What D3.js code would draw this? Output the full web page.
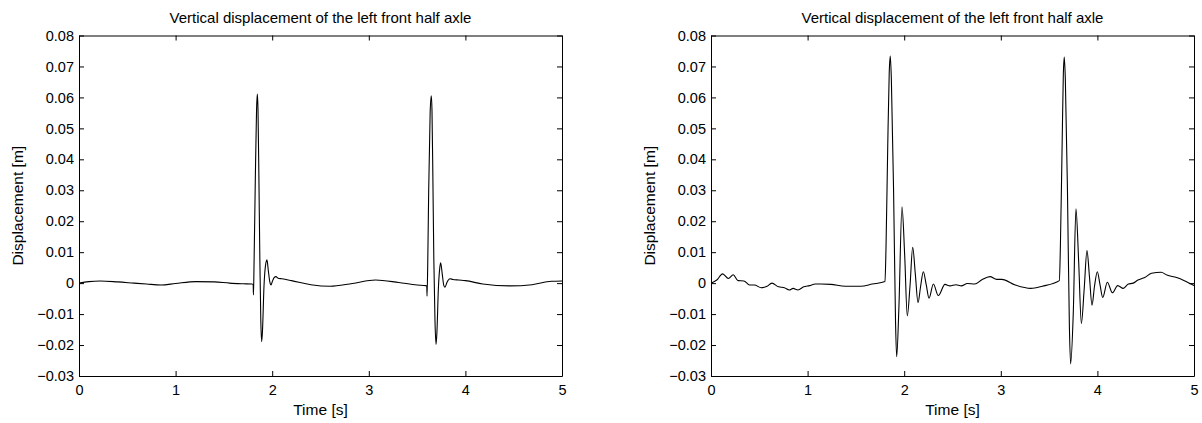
<!DOCTYPE html>
<html>
<head>
<meta charset="utf-8">
<script src="https://cdn.jsdelivr.net/npm/d3@7"></script>
<style>
  body { margin: 0; background: #fff; }
  text { font-family: "Liberation Sans", Arial, sans-serif; fill: #000; }
</style>
</head>
<body>
<svg id="myGraph" width="1202" height="423"></svg>
<script>
// data
var titleText = "Vertical displacement of the left front half axle";
var xTicks = [0, 1, 2, 3, 4, 5];
var yTicks = [-0.03, -0.02, -0.01, 0, 0.01, 0.02, 0.03, 0.04, 0.05, 0.06, 0.07, 0.08];

var timeLeft = [0, 0.1, 0.22, 0.4, 0.57, 0.7, 0.85, 1.0, 1.21, 1.4, 1.56, 1.7, 1.79, 1.803,
  1.806, 1.812, 1.825, 1.838, 1.846, 1.853, 1.862, 1.872, 1.882, 1.891, 1.9, 1.915, 1.93, 1.946,
  1.96, 1.975, 1.988, 2.0, 2.02, 2.039, 2.06, 2.1, 2.2, 2.4, 2.6, 2.83, 3.07, 3.31, 3.5, 3.59,
  3.6, 3.603, 3.61, 3.62, 3.635, 3.647, 3.654, 3.663, 3.673, 3.685, 3.696, 3.705, 3.72, 3.735,
  3.744, 3.76, 3.777, 3.789, 3.81, 3.84, 3.87, 3.93, 4.0, 4.18, 4.46, 4.69, 4.89, 5];
var dispLeft = [0, 0.0005, 0.0007, 0.0004, 0, -0.0003, -0.0006, -0.0001, 0.0005, 0.0004, 0, -0.0002, -0.0003, -0.0004,
  -0.0038, 0.006, 0.033, 0.056, 0.0611, 0.056, 0.035, 0.008, -0.012, -0.0189, -0.015, -0.001, 0.0055, 0.0075,
  0.004, 0.0005, -0.0006, 0.0004, 0.0018, 0.0021, 0.0016, 0.0014, 0.0008, -0.0005, -0.001, -0.0001, 0.001, 0.0002, -0.0006, -0.0008,
  -0.0009, -0.0042, 0.006, 0.03, 0.055, 0.0605, 0.056, 0.035, 0.008, -0.012, -0.0198, -0.016, -0.002, 0.005,
  0.0066, 0.003, -0.0008, -0.0013, 0.0003, 0.0014, 0.0012, 0.001, 0.0008, -0.0003, -0.0009, -0.0005, 0.0006, 0.0007];

var timeRight = [0, 0.06, 0.12, 0.18, 0.23, 0.28, 0.34, 0.4, 0.45, 0.52, 0.58, 0.63, 0.7, 0.76, 0.81,
  0.85, 0.9, 0.96, 1.02, 1.08, 1.14, 1.24, 1.39, 1.55, 1.67, 1.801, 1.812, 1.83, 1.845, 1.856, 1.867,
  1.89, 1.91, 1.922, 1.945, 1.977, 2.005, 2.032, 2.06, 2.088, 2.115, 2.143, 2.17, 2.198, 2.228, 2.257,
  2.302, 2.353, 2.422, 2.474, 2.536, 2.59, 2.654, 2.73, 2.8, 2.888, 2.957, 3.01, 3.15, 3.31, 3.43,
  3.606, 3.617, 3.635, 3.647, 3.657, 3.668, 3.69, 3.71, 3.723, 3.75, 3.778, 3.806, 3.834, 3.863,
  3.892, 3.918, 3.944, 3.97, 3.999, 4.027, 4.055, 4.103, 4.155, 4.21, 4.268, 4.32, 4.37, 4.42,
  4.49, 4.56, 4.66, 4.72, 4.82, 4.9, 5];
var dispRight = [0, 0.001, 0.003, 0.0015, 0.0027, 0.0008, 0.0007, -0.0006, -0.0006, -0.0015, -0.001, 0.0, -0.0012, -0.0015, -0.0022,
  -0.0017, -0.0022, -0.0012, -0.0008, -0.0003, -0.0003, -0.0004, -0.001, -0.001, -0.0003, 0.0005, 0.012, 0.045, 0.068, 0.0734, 0.066,
  0.03, -0.012, -0.0238, -0.008, 0.0247, 0.009, -0.0106, -0.001, 0.0116, 0.003, -0.0063, -0.001, 0.0037, -0.0005, -0.0049,
  -0.0003, -0.004, -0.0004, -0.0009, -0.0005, -0.0009, -0.0001, -0.0003, 0.001, 0.0021, 0.0012, 0.0012, -0.0006, -0.0017, -0.001,
  0.0008, 0.012, 0.045, 0.067, 0.073, 0.066, 0.03, -0.014, -0.0261, -0.01, 0.024, 0.007, -0.013, -0.002,
  0.0105, 0.002, -0.0071, -0.001, 0.0037, -0.0005, -0.0046, 0.0003, -0.0031, -0.0008, -0.0017, -0.0003, 0.0, 0.001,
  0.0018, 0.0032, 0.0035, 0.0026, 0.0018, 0.0008, -0.0008];

var svg = d3.select("#myGraph");
var plotW = 483, plotH = 340.5;

function tickFmt(d) {
  if (d === 0) return "0";
  return d3.format(".2f")(d);   // d3 uses the real minus sign
}

function drawPanel(left, times, values) {
  var g = svg.append("g").attr("transform", "translate(" + left + ",35.5)");

  var xScale = d3.scaleLinear().domain([0, 5]).range([0, plotW]);
  var yScale = d3.scaleLinear().domain([-0.03, 0.08]).range([plotH, 0]);

  // MATLAB style box with ticks pointing in
  g.append("g").attr("transform", "translate(0," + plotH + ")")
    .call(d3.axisBottom(xScale).tickValues(xTicks).tickSizeInner(-5).tickSizeOuter(0).tickPadding(9).tickFormat(d3.format("d")));
  g.append("g")
    .call(d3.axisTop(xScale).tickValues(xTicks).tickSizeInner(-5).tickSizeOuter(0).tickFormat(""));
  g.append("g")
    .call(d3.axisLeft(yScale).tickValues(yTicks).tickSizeInner(-5).tickSizeOuter(0).tickPadding(5).tickFormat(tickFmt));
  g.append("g").attr("transform", "translate(" + plotW + ",0)")
    .call(d3.axisRight(yScale).tickValues(yTicks).tickSizeInner(-5).tickSizeOuter(0).tickFormat(""));

  g.selectAll(".domain, .tick line").attr("stroke", "#000").attr("stroke-width", 1);
  g.selectAll(".tick text").style("font-size", "14.5px").style("font-family", "Liberation Sans, Arial, sans-serif");

  var pts = times.map(function(t, i) { return [t, values[i]]; });
  var line = d3.line()
    .x(function(d) { return xScale(d[0]); })
    .y(function(d) { return yScale(d[1]); })
    .curve(d3.curveMonotoneX);
  g.append("path").datum(pts)
    .attr("d", line)
    .attr("fill", "none")
    .attr("stroke", "#000")
    .attr("stroke-width", 1.1);

  // title and labels
  g.append("text").attr("x", plotW / 2).attr("y", -12.5)
    .attr("text-anchor", "middle").style("font-size", "15px").text(titleText);
  g.append("text").attr("x", plotW / 2).attr("y", plotH + 39)
    .attr("text-anchor", "middle").style("font-size", "15.5px").text("Time [s]");
  g.append("text").attr("transform", "translate(-56.5," + plotH / 2 + ") rotate(-90)")
    .attr("text-anchor", "middle").style("font-size", "15.5px").text("Displacement [m]");
}

drawPanel(79, timeLeft, dispLeft);
drawPanel(711, timeRight, dispRight);
</script>
</body>
</html>
